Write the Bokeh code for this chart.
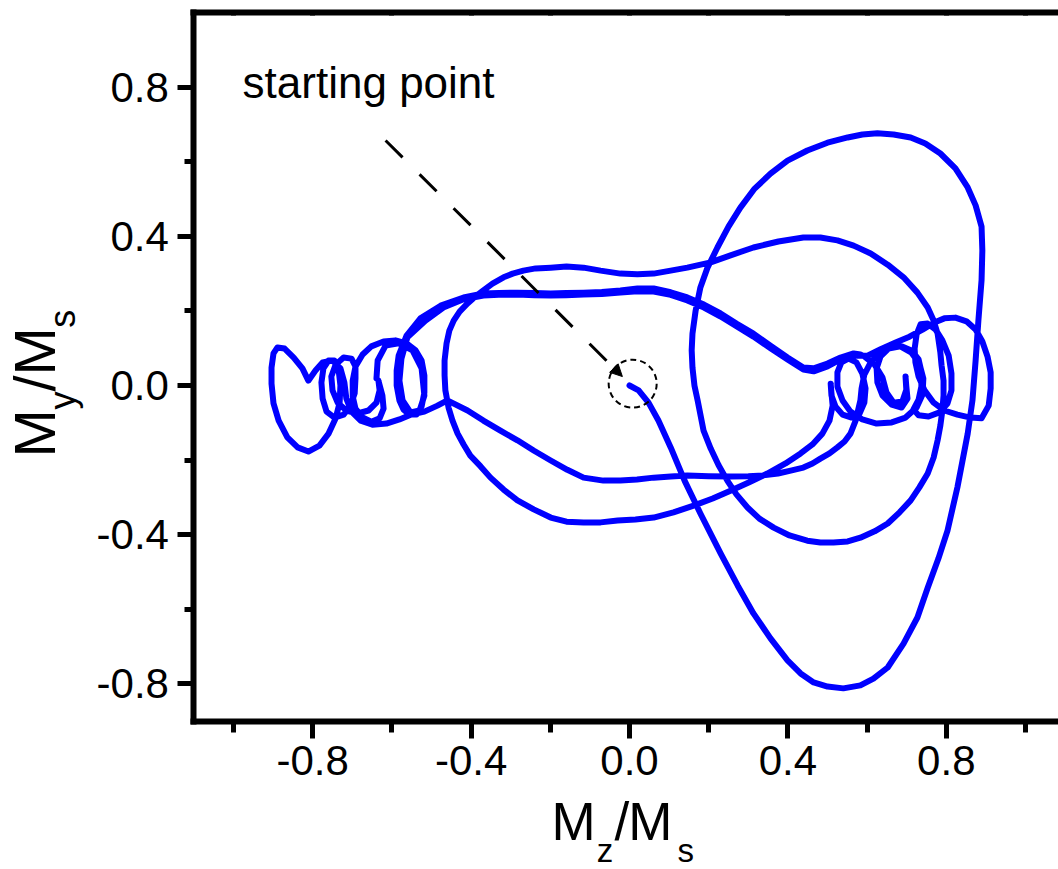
import math
from bokeh.plotting import figure
from bokeh.models import (Range1d, LinearAxis, FixedTicker, Label, Arrow, NormalHead,
                          NumeralTickFormatter)
from bokeh.embed import file_html
from bokeh.resources import INLINE

# ---------------- data ----------------
# segment A: start -> big lower lobe -> big upper lobe -> inner lobe -> hump -> left arc -> lower band
seg_a_mz = [0.000, 0.023, 0.048, 0.073, 0.104, 0.139, 0.179, 0.230, 0.273, 0.313, 0.356, 0.399, 0.432,
            0.465, 0.500, 0.540, 0.583, 0.616, 0.652, 0.692, 0.727, 0.753, 0.780, 0.803, 0.828, 0.854,
            0.866, 0.874, 0.881, 0.889, 0.891, 0.889, 0.874, 0.854, 0.823, 0.785, 0.747, 0.710, 0.667,
            0.626, 0.588, 0.551, 0.500, 0.449, 0.399, 0.356, 0.316, 0.280, 0.250, 0.222, 0.197, 0.179,
            0.167, 0.159, 0.157, 0.159, 0.164, 0.172, 0.187, 0.205, 0.225, 0.247, 0.270, 0.298, 0.328,
            0.364, 0.404, 0.449, 0.482, 0.515, 0.551, 0.583, 0.619, 0.652, 0.682, 0.710, 0.732, 0.753,
            0.768, 0.778, 0.785, 0.790, 0.793, 0.793, 0.788, 0.785, 0.778, 0.768, 0.753, 0.727, 0.692,
            0.652, 0.609, 0.566, 0.525, 0.482, 0.439, 0.376, 0.313, 0.255, 0.205, 0.146, 0.104, 0.061,
            0.020, -0.023, -0.073, -0.116, -0.159, -0.199, -0.237, -0.268, -0.295, -0.318, -0.346,
            -0.369, -0.392, -0.409, -0.429, -0.444, -0.455, -0.462, -0.467, -0.467, -0.465, -0.457,
            -0.447, -0.434, -0.419, -0.402, -0.376, -0.351, -0.318, -0.283, -0.242, -0.199, -0.159,
            -0.116, -0.073, -0.030, 0.015, 0.061, 0.111, 0.162, 0.210, 0.255, 0.301, 0.348, 0.394,
            0.432, 0.462, 0.487, 0.505, 0.513, 0.510, 0.508]
seg_a_my = [0.000, -0.013, -0.046, -0.094, -0.166, -0.255, -0.343, -0.450, -0.536, -0.611, -0.678,
            -0.737, -0.772, -0.796, -0.807, -0.812, -0.804, -0.786, -0.756, -0.692, -0.622, -0.542,
            -0.464, -0.389, -0.273, -0.129, -0.040, 0.067, 0.174, 0.282, 0.362, 0.426, 0.483, 0.531,
            0.582, 0.622, 0.649, 0.665, 0.673, 0.676, 0.673, 0.665, 0.651, 0.630, 0.603, 0.568, 0.528,
            0.477, 0.426, 0.370, 0.316, 0.263, 0.201, 0.139, 0.094, 0.048, 0.000, -0.040, -0.121,
            -0.169, -0.214, -0.255, -0.292, -0.327, -0.357, -0.381, -0.402, -0.416, -0.421, -0.421,
            -0.418, -0.408, -0.391, -0.370, -0.340, -0.308, -0.273, -0.236, -0.193, -0.147, -0.107,
            -0.067, -0.027, 0.013, 0.054, 0.088, 0.139, 0.174, 0.209, 0.249, 0.290, 0.324, 0.354,
            0.375, 0.389, 0.397, 0.397, 0.386, 0.370, 0.349, 0.330, 0.316, 0.308, 0.300, 0.298, 0.300,
            0.308, 0.316, 0.319, 0.316, 0.314, 0.308, 0.300, 0.290, 0.273, 0.255, 0.236, 0.220, 0.198,
            0.174, 0.147, 0.113, 0.067, 0.027, -0.013, -0.059, -0.094, -0.129, -0.158, -0.188, -0.217,
            -0.247, -0.279, -0.308, -0.332, -0.354, -0.365, -0.367, -0.367, -0.362, -0.359, -0.354,
            -0.340, -0.322, -0.303, -0.282, -0.260, -0.236, -0.209, -0.182, -0.158, -0.129, -0.094,
            -0.054, -0.021, 0.005]

# segment R1: first loops of the right cluster
seg_r1_mz = [0.510, 0.520, 0.538, 0.561, 0.581, 0.593, 0.596, 0.588, 0.573, 0.553, 0.535, 0.525, 0.525,
             0.538, 0.558, 0.588, 0.624, 0.662, 0.697, 0.725, 0.740, 0.742, 0.732, 0.712, 0.684, 0.654,
             0.634, 0.624, 0.626, 0.639, 0.662, 0.687, 0.702, 0.699, 0.697, 0.699, 0.689, 0.667, 0.649,
             0.639, 0.619, 0.593]
seg_r1_my = [-0.027, -0.056, -0.078, -0.086, -0.075, -0.046, -0.008, 0.032, 0.062, 0.072, 0.062, 0.035,
             -0.003, -0.040, -0.070, -0.091, -0.102, -0.099, -0.086, -0.059, -0.024, 0.019, 0.059,
             0.088, 0.105, 0.099, 0.078, 0.046, 0.008, -0.027, -0.051, -0.059, -0.035, -0.003, 0.024,
             -0.011, -0.043, -0.046, -0.019, 0.021, 0.056, 0.078]

# band 2, first pass (right -> left)
band2a_mz = [0.583, 0.566, 0.533, 0.500, 0.465, 0.439, 0.399, 0.356, 0.313, 0.270, 0.230, 0.188, 0.146,
             0.104, 0.061, 0.020, -0.023, -0.070, -0.116, -0.160, -0.199, -0.240, -0.283, -0.330,
             -0.369, -0.419, -0.477, -0.528, -0.563, -0.583]
band2a_my = [0.083, 0.086, 0.075, 0.059, 0.046, 0.048, 0.075, 0.107, 0.139, 0.166, 0.193, 0.217, 0.236,
             0.250, 0.260, 0.260, 0.255, 0.251, 0.249, 0.248, 0.247, 0.248, 0.249, 0.248, 0.247, 0.236,
             0.214, 0.180, 0.134, 0.080]

# left cluster loops (right -> left, ending at the cusp of the heart-shaped loop)
left_mz = [-0.588, -0.588, -0.581, -0.571, -0.556, -0.538, -0.525, -0.518, -0.518, -0.525, -0.540,
           -0.563, -0.591, -0.621, -0.652, -0.674, -0.692, -0.699, -0.699, -0.692, -0.674, -0.652,
           -0.631, -0.621, -0.624, -0.634, -0.631, -0.639, -0.659, -0.687, -0.715, -0.737, -0.750,
           -0.753, -0.742, -0.722, -0.702, -0.692, -0.692, -0.694, -0.705, -0.722, -0.745, -0.765,
           -0.775, -0.778, -0.773, -0.760, -0.745, -0.735, -0.730, -0.732, -0.742, -0.760, -0.783,
           -0.811, -0.838, -0.864, -0.886, -0.899, -0.904, -0.904, -0.899, -0.889, -0.871, -0.848,
           -0.826, -0.811]
left_my = [0.040, 0.000, -0.040, -0.064, -0.078, -0.078, -0.056, -0.019, 0.027, 0.067, 0.094, 0.113,
           0.121, 0.118, 0.105, 0.083, 0.051, 0.013, -0.029, -0.062, -0.086, -0.097, -0.088, -0.062,
           -0.027, 0.013, -0.013, -0.046, -0.067, -0.075, -0.067, -0.046, -0.013, 0.024, 0.056, 0.075,
           0.072, 0.051, 0.019, -0.021, -0.054, -0.078, -0.086, -0.070, -0.035, 0.008, 0.046, 0.067,
           0.067, 0.046, 0.000, -0.046, -0.088, -0.129, -0.161, -0.177, -0.166, -0.139, -0.094,
           -0.048, 0.005, 0.048, 0.086, 0.102, 0.099, 0.075, 0.046, 0.013]

# return along the bottom of the left cluster
ret_mz = [-0.793, -0.775, -0.750, -0.730, -0.720, -0.715, -0.702, -0.679, -0.649, -0.614, -0.581,
          -0.551, -0.518, -0.485, -0.460]
ret_my = [0.040, 0.062, 0.067, 0.046, 0.008, -0.035, -0.070, -0.094, -0.105, -0.102, -0.091, -0.078,
          -0.070, -0.054, -0.040]

# lower band L2 (left -> right)
l2_mz = [-0.409, -0.369, -0.326, -0.283, -0.241, -0.199, -0.157, -0.116, -0.066, -0.023, 0.019, 0.061,
         0.104, 0.146, 0.200, 0.255, 0.300, 0.338, 0.375, 0.407, 0.439, 0.462, 0.482, 0.505, 0.525,
         0.543, 0.558, 0.571, 0.583]
l2_my = [-0.067, -0.094, -0.121, -0.147, -0.175, -0.201, -0.226, -0.247, -0.255, -0.255, -0.252,
         -0.247, -0.244, -0.241, -0.243, -0.244, -0.243, -0.241, -0.236, -0.228, -0.220, -0.209,
         -0.196, -0.182, -0.166, -0.150, -0.129, -0.094, -0.040]

# right cluster, second visit
seg_r2_mz = [0.586, 0.593, 0.609, 0.629, 0.657, 0.687, 0.712, 0.730, 0.737, 0.737, 0.730, 0.717, 0.730,
             0.755, 0.783, 0.803, 0.813, 0.813, 0.806, 0.790, 0.773, 0.753, 0.735, 0.725, 0.720, 0.722,
             0.730, 0.745, 0.768, 0.795, 0.828, 0.861, 0.889, 0.907, 0.912, 0.912, 0.904, 0.891, 0.874,
             0.851, 0.823, 0.795, 0.770, 0.740, 0.707, 0.672, 0.634, 0.601]
seg_r2_my = [-0.008, 0.029, 0.062, 0.086, 0.102, 0.105, 0.094, 0.070, 0.038, -0.003, -0.038, -0.064,
             -0.080, -0.083, -0.072, -0.048, -0.013, 0.032, 0.080, 0.121, 0.150, 0.166, 0.164, 0.137,
             0.099, 0.062, 0.024, -0.013, -0.046, -0.067, -0.078, -0.086, -0.088, -0.054, -0.008, 0.035,
             0.078, 0.118, 0.150, 0.172, 0.182, 0.180, 0.169, 0.150, 0.131, 0.115, 0.097, 0.080]

# band 2, second pass and final loop on the left
band2b_mz = [0.566, 0.533, 0.500, 0.465, 0.439, 0.399, 0.356, 0.313, 0.270, 0.230, 0.188, 0.146, 0.104,
             0.061, 0.020, -0.023, -0.070, -0.116, -0.160, -0.199, -0.240, -0.283, -0.330, -0.369,
             -0.419, -0.470, -0.515, -0.561, -0.576, -0.581, -0.573, -0.553, -0.530, -0.518, -0.525,
             -0.548, -0.583, -0.616, -0.636, -0.639]
band2b_my = [0.080, 0.070, 0.051, 0.038, 0.043, 0.070, 0.100, 0.131, 0.159, 0.185, 0.209, 0.228, 0.243,
             0.252, 0.253, 0.249, 0.245, 0.244, 0.242, 0.241, 0.242, 0.244, 0.243, 0.241, 0.231, 0.209,
             0.174, 0.129, 0.072, 0.013, -0.040, -0.072, -0.067, -0.027, 0.046, 0.094, 0.113, 0.107,
             0.067, 0.019]

mz = seg_a_mz + seg_r1_mz + band2a_mz + left_mz + ret_mz + l2_mz + seg_r2_mz + band2b_mz
my = seg_a_my + seg_r1_my + band2a_my + left_my + ret_my + l2_my + seg_r2_my + band2b_my

# axes
x_bounds = (-1.1, 1.0833)
y_bounds = (-0.9, 1.0)
x_major = [-0.8, -0.4, 0.0, 0.4, 0.8]
x_minor = [-1.0, -0.6, -0.2, 0.2, 0.6, 1.0]
x_labels = ["-0.8", "-0.4", "0.0", "0.4", "0.8"]
y_major = [-0.8, -0.4, 0.0, 0.4, 0.8]
y_minor = [-0.6, -0.2, 0.2, 0.6]
y_labels = ["-0.8", "-0.4", "0.0", "0.4", "0.8"]

# annotation (starting point)
start_mz, start_my = 0.008, 0.005
arrow_from = (-0.616, 0.657)
arrow_to = (-0.018, 0.024)
note_text = "starting point"

FONT = "Liberation Sans"

# the frame spans the whole canvas; the box axes sit at fixed data locations
p = figure(width=1058, height=869, x_range=Range1d(-1.5884, 1.0833), y_range=Range1d(-1.2976, 1.0322),
           output_backend="svg", toolbar_location=None,
           x_axis_location=None, y_axis_location=None,
           min_border_left=0, min_border_right=0, min_border_top=0, min_border_bottom=0)
p.outline_line_color = None
p.grid.visible = False
p.background_fill_color = "white"
p.border_fill_color = "white"


def style(ax):
    ax.axis_line_width = 6
    ax.axis_line_color = "black"
    ax.axis_line_cap = "square"
    ax.major_tick_line_width = 5
    ax.minor_tick_line_width = 5
    ax.major_tick_line_color = "black"
    ax.minor_tick_line_color = "black"
    ax.major_tick_in = 0
    ax.minor_tick_in = 0
    ax.major_label_text_font = FONT
    ax.major_label_text_font_size = "42px"
    ax.major_label_text_color = "black"
    ax.formatter = NumeralTickFormatter(format="0.0")


xb = LinearAxis(ticker=FixedTicker(ticks=x_major, minor_ticks=x_minor), fixed_location=y_bounds[0],
                bounds=x_bounds)
style(xb)
xb.major_tick_out = 17
xb.minor_tick_out = 11
xb.major_label_standoff = 8
xb.major_label_overrides = dict(zip(x_major, x_labels))
p.add_layout(xb, "below")

yl = LinearAxis(ticker=FixedTicker(ticks=y_major, minor_ticks=y_minor), fixed_location=x_bounds[0],
                bounds=y_bounds)
style(yl)
yl.major_tick_out = 16
yl.minor_tick_out = 9
yl.major_label_standoff = 9
yl.major_label_overrides = dict(zip(y_major, y_labels))
p.add_layout(yl, "left")

xt = LinearAxis(ticker=FixedTicker(ticks=x_major, minor_ticks=x_minor), fixed_location=y_bounds[1],
                bounds=x_bounds)
style(xt)
xt.major_tick_out = 0
xt.minor_tick_out = 0
xt.major_tick_in = 3
xt.minor_tick_in = 3
xt.major_label_text_font_size = "1px"
xt.major_label_text_color = None
xt.major_label_standoff = 0
p.add_layout(xt, "above")

# trajectory
p.line(mz, my, line_color="#0000ff", line_width=6, line_join="round", line_cap="round")

# dashed circle around the starting point
p.scatter([start_mz], [start_my], marker="circle", size=48, fill_color=None,
          line_color="black", line_width=2, line_dash="6 4")

# dashed pointer
p.add_layout(Arrow(x_start=arrow_from[0], y_start=arrow_from[1], x_end=arrow_to[0], y_end=arrow_to[1],
                   line_color="black", line_width=3, line_dash="24 24",
                   end=NormalHead(size=12, fill_color="black", line_color="black", line_width=1)))

p.add_layout(Label(x=-0.977, y=0.8125, text=note_text, text_font=FONT, text_font_size="44px",
                   text_color="black", text_align="left", text_baseline="alphabetic"))

# x axis title  M_z/M_s
for txt, xx, yy, fs in [("M", -0.197, -1.169, "53px"), ("z", -0.083, -1.247, "33px"),
                        ("/", -0.038, -1.169, "53px"), ("M", -0.003, -1.169, "53px"),
                        ("s", 0.121, -1.247, "33px")]:
    p.add_layout(Label(x=xx, y=yy, text=txt, text_font=FONT, text_font_size=fs, text_color="black",
                       text_align="left", text_baseline="alphabetic"))

# y axis title  M_y/M_s (rotated)
for txt, xx, yy, fs in [("M", -1.502, -0.193, "58px"), ("y", -1.432, -0.064, "36px"),
                        ("/", -1.502, -0.016, "58px"), ("M", -1.502, 0.027, "58px"),
                        ("s", -1.432, 0.155, "36px")]:
    p.add_layout(Label(x=xx, y=yy, text=txt, text_font=FONT, text_font_size=fs, text_color="black",
                       text_align="left", text_baseline="alphabetic", angle=math.pi / 2))

open("out.html", "w").write(file_html(p, INLINE))
